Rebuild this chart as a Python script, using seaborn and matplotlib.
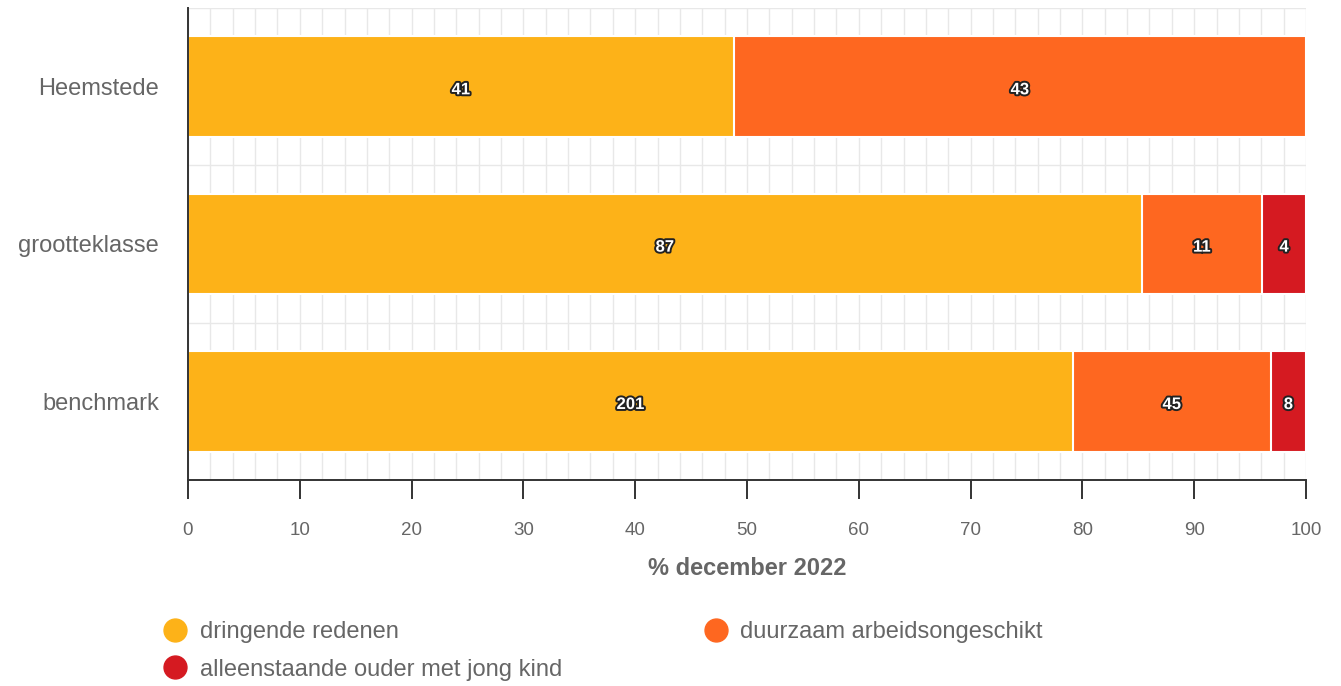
import pandas as pd
import numpy as np
import matplotlib
matplotlib.use('Agg')
import matplotlib.pyplot as plt
import matplotlib.patheffects as pe
from matplotlib.lines import Line2D
import seaborn as sns

# data
regios = ['Heemstede', 'grootteklasse', 'benchmark']
reden = ['dringende redenen', 'duurzaam arbeidsongeschikt', 'alleenstaande ouder met jong kind']
aantal_dringend = [41, 87, 201]
aantal_duurzaam = [43, 11, 45]
aantal_alleen = [0, 4, 8]
kleuren = ['#FDB218', '#FE6720', '#D51A21']

df = pd.DataFrame({'regio': regios,
                   reden[0]: aantal_dringend,
                   reden[1]: aantal_duurzaam,
                   reden[2]: aantal_alleen}).set_index('regio')
pct = df.div(df.sum(axis=1), axis=0) * 100
cum = pct.cumsum(axis=1)

sns.set_style('white')
plt.rcParams['font.family'] = ['Liberation Sans', 'DejaVu Sans']

fig = plt.figure(figsize=(13.41, 6.86), dpi=100)
ax = fig.add_axes([188 / 1341, 1 - 480 / 686, (1306 - 188) / 1341, (480 - 8) / 686])

# stapels van achter naar voren tekenen
for i in range(len(reden) - 1, -1, -1):
    tmp = cum[reden[i]].reset_index()
    tmp.columns = ['regio', 'waarde']
    tmp = tmp[pct[reden[i]].values > 0]
    sns.barplot(data=tmp, y='regio', x='waarde', order=regios, color=kleuren[i],
                saturation=1, width=0.64, edgecolor='white', linewidth=1.5, ax=ax, zorder=2)

# labels in de segmenten
for r_i, regio in enumerate(regios):
    links = 0
    for reden_i, rd in enumerate(reden):
        w = pct.loc[regio, rd]
        if w > 0:
            ax.text(links + w / 2, r_i + 0.02, str(df.loc[regio, rd]), ha='center', va='center',
                    fontsize=12, fontweight='bold', color='white', zorder=5,
                    path_effects=[pe.withStroke(linewidth=2.8, foreground='#222222')])
        links += w

ax.set_xlim(0, 100)
ax.set_ylim(2.5, -0.5)
ax.set_xticks(np.arange(0, 101, 10))
ax.set_xticks(np.arange(0, 101, 2), minor=True)
ax.set_yticks([-0.5, 0, 0.5, 1, 1.5, 2, 2.5], minor=True)
ax.grid(which='minor', color='#e8e8e8', linewidth=1, zorder=0)
ax.grid(which='major', axis='x', color='#e8e8e8', linewidth=1, zorder=0)
ax.set_axisbelow(True)

for s in ['top', 'right']:
    ax.spines[s].set_visible(False)
for s in ['left', 'bottom']:
    ax.spines[s].set_color('#333333')
    ax.spines[s].set_linewidth(1.4)
    ax.spines[s].set_zorder(4)

ax.tick_params(axis='x', which='major', bottom=True, length=14, width=1.4, color='#333333',
               labelsize=13.5, labelcolor='#666666', pad=16, direction='out')
ax.tick_params(axis='x', which='minor', bottom=False, length=0)
ax.tick_params(axis='y', which='both', left=False, length=0, labelsize=17,
               labelcolor='#666666', pad=21)
ax.set_ylabel('')
ax.set_xlabel('% december 2022', fontsize=17, fontweight='bold', color='#666666', labelpad=13)

# legenda: rij 1 = dringend, duurzaam; rij 2 = alleenstaand
volgorde = [0, 2, 1]
handles = [Line2D([0], [0], marker='o', linestyle='', markersize=16.5,
                  markerfacecolor=kleuren[k], markeredgecolor=kleuren[k]) for k in volgorde]
fig.legend(handles, [reden[k] for k in volgorde], loc='upper left',
           bbox_to_anchor=(142 / 1341, 1 - 600 / 686),
           ncol=2, frameon=False, fontsize=17, labelcolor='#666666',
           handletextpad=0.55, columnspacing=6.0, labelspacing=0.65, handlelength=1.0)

fig.savefig('out.png', dpi=100)
